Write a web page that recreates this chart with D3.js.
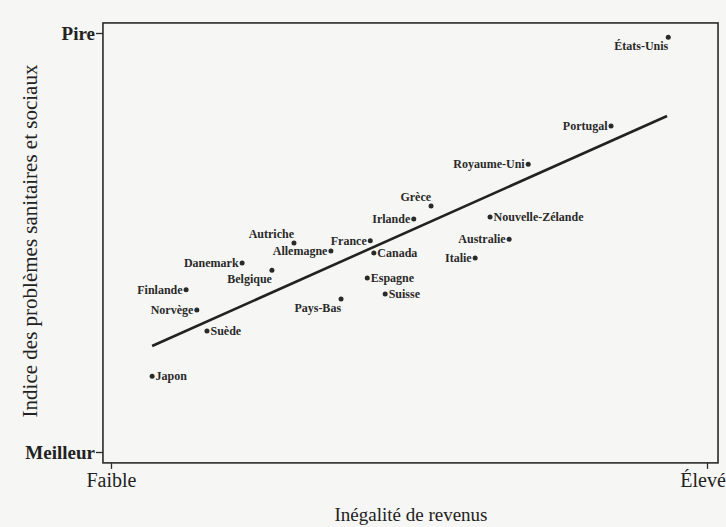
<!DOCTYPE html>
<html>
<head>
<meta charset="utf-8">
<script src="https://cdn.jsdelivr.net/npm/d3@7"></script>
<style>
  body { margin: 0; background: #f6f6f4; }
  svg { display: block; font-family: "Liberation Serif", "DejaVu Serif", serif; }
</style>
</head>
<body>
<script>
// countries, index positions (0 = Faible/Meilleur, 100 = Élevée/Pire)
var countries = ["États-Unis", "Portugal", "Royaume-Uni", "Grèce", "Nouvelle-Zélande",
  "Irlande", "Australie", "France", "Autriche", "Allemagne", "Canada", "Italie",
  "Danemark", "Belgique", "Espagne", "Finlande", "Suisse", "Pays-Bas", "Norvège",
  "Suède", "Japon"];
var inequality = [93.5, 83.9, 70.0, 53.7, 63.6, 50.8, 66.8, 43.5, 30.7, 36.9, 44.1, 61.1,
  22.0, 27.0, 43.0, 12.6, 46.0, 38.6, 14.4, 16.1, 6.9];
var problems = [99.0, 77.8, 68.7, 58.7, 56.1, 55.6, 50.8, 50.4, 49.9, 48.0, 47.5, 46.3,
  45.1, 43.4, 41.5, 38.7, 37.7, 36.5, 33.9, 28.9, 18.1];
// where the label sits relative to its dot
var labelSide = ["below", "left", "left", "above", "right", "left", "left", "left",
  "above", "left", "right", "left", "left", "below", "right", "left", "right", "below",
  "left", "right", "right"];
var trendX = [6.9, 93.3];
var trendY = [25.3, 80.2];
var xTicks = ["Faible", "Élevée"];
var yTicks = ["Meilleur", "Pire"];

var w = 726,
    h = 527;

var x = d3.scaleLinear().domain([0, 100]).range([111, 707]);
var y = d3.scaleLinear().domain([0, 100]).range([452, 33]);

var svg = d3.select("body")
  .append("svg")
  .attr("width", w)
  .attr("height", h);

// frame
svg.append("rect")
  .attr("x", x(-1.35))
  .attr("y", y(102.4))
  .attr("width", x(101.85) - x(-1.35))
  .attr("height", y(-2.6) - y(102.4))
  .attr("fill", "none")
  .attr("stroke", "#2a2a2a")
  .attr("stroke-width", 1.6);

var xAxis = d3.axisBottom(x)
  .tickValues([0, 100])
  .tickFormat(function (d, i) { return xTicks[i]; })
  .tickSize(6)
  .tickPadding(4);

var yAxis = d3.axisLeft(y)
  .tickValues([0, 100])
  .tickFormat(function (d, i) { return yTicks[i]; })
  .tickSize(7)
  .tickPadding(1);

svg.append("g")
  .attr("transform", "translate(0," + y(-2.6) + ")")
  .call(xAxis)
  .call(function (g) { g.select(".domain").remove(); })
  .selectAll("text")
  .attr("font-family", "Liberation Serif")
  .attr("font-size", 20)
  .attr("fill", "#222");

svg.append("g")
  .attr("transform", "translate(" + x(-1.35) + ",0)")
  .call(yAxis)
  .call(function (g) { g.select(".domain").remove(); })
  .selectAll("text")
  .attr("font-family", "Liberation Serif")
  .attr("font-size", 19)
  .attr("font-weight", "bold")
  .attr("fill", "#222");

svg.selectAll(".tick line")
  .attr("stroke", "#2a2a2a")
  .attr("stroke-width", 1.3);

// axis titles
svg.append("text")
  .attr("x", 411)
  .attr("y", 521)
  .attr("text-anchor", "middle")
  .attr("font-size", 19)
  .attr("fill", "#222")
  .text("Inégalité de revenus");

svg.append("text")
  .attr("transform", "translate(37,241) rotate(-90)")
  .attr("text-anchor", "middle")
  .attr("font-size", 21)
  .attr("fill", "#222")
  .text("Indice des problèmes sanitaires et sociaux");

// trend line
svg.append("line")
  .attr("x1", x(trendX[0]))
  .attr("y1", y(trendY[0]))
  .attr("x2", x(trendX[1]))
  .attr("y2", y(trendY[1]))
  .attr("stroke", "#222")
  .attr("stroke-width", 2.6);

var data = countries.map(function (c, i) {
  return { name: c, x: inequality[i], y: problems[i], side: labelSide[i] };
});

svg.selectAll("circle")
  .data(data)
  .enter()
  .append("circle")
  .attr("cx", function (d) { return x(d.x); })
  .attr("cy", function (d) { return y(d.y); })
  .attr("r", 2.5)
  .attr("fill", "#2a2a2a");

svg.selectAll(".lbl")
  .data(data)
  .enter()
  .append("text")
  .attr("class", "lbl")
  .attr("x", function (d) {
    if (d.side === "right") return x(d.x) + 3.5;
    if (d.side === "left") return x(d.x) - 3.5;
    return x(d.x);
  })
  .attr("y", function (d) {
    if (d.side === "above") return y(d.y) - 5;
    if (d.side === "below") return y(d.y) + 13;
    return y(d.y) + 4;
  })
  .attr("text-anchor", function (d) {
    if (d.side === "right") return "start";
    return "end";
  })
  .attr("font-size", 12)
  .attr("font-weight", "bold")
  .attr("fill", "#2a2a2a")
  .text(function (d) { return d.name; });
</script>
</body>
</html>
